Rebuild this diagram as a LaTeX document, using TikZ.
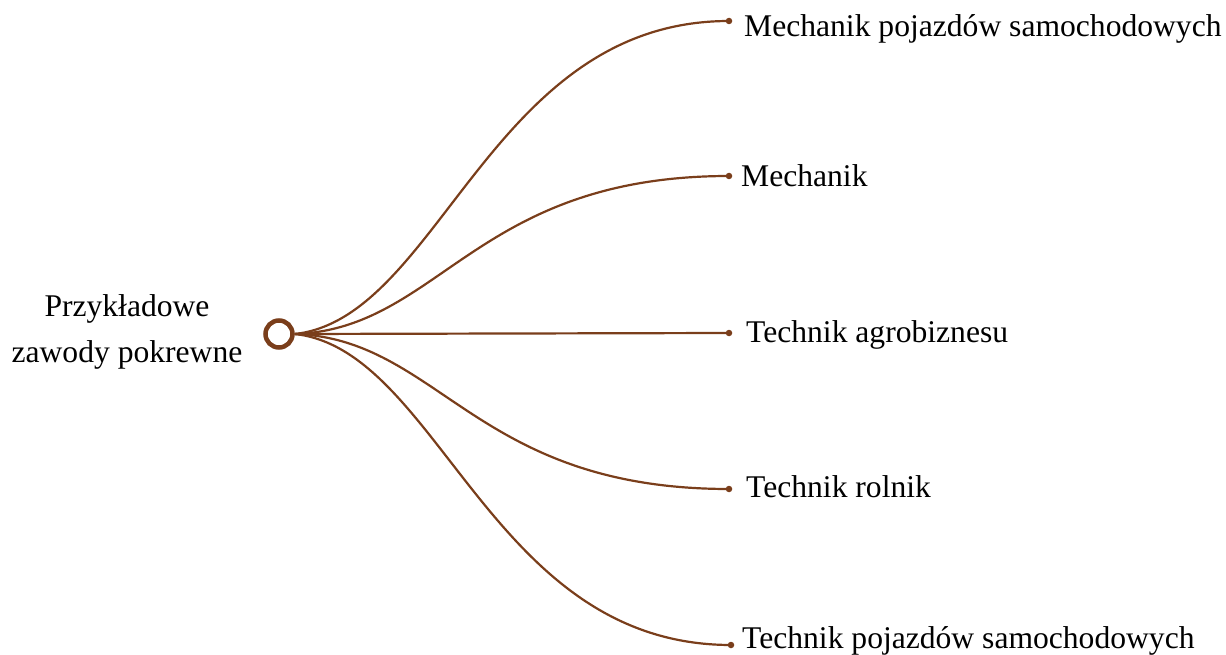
\documentclass[tikz,border=0pt]{standalone}
\usepackage{fontspec}
\setmainfont{Liberation Serif}
\usepackage{xcolor}
\usetikzlibrary{positioning}
\definecolor{branch}{RGB}{122,62,27}

\begin{document}
\begin{tikzpicture} [x = 1pt, y = -1pt,
          hub/.style = {circle, draw = branch, line width = 4.5pt,
              minimum size = 27pt, inner sep = 0pt
          },
          tip/.style = {circle, fill = branch, minimum size = 6.5pt, inner sep = 0pt},
          job/.style = {anchor = base west, inner sep = 0pt,
              font = \fontsize{31.6}{46}\selectfont
          },
          link/.style = {draw = branch, line width = 2.2pt}
          ]
          \useasboundingbox (0,0) rectangle (1226,655);

          % Root
          \node (root) [align = center, inner sep = 0pt,
              font = \fontsize{31.6}{46}\selectfont] at (127,332)
              {Przykładowe\\zawody pokrewne};
          \node (hub) [hub] at (279,334) {};

          % Ends
          \node (e1) [tip] at (729,21) {};
          \node (e2) [tip] at (729,176) {};
          \node (e3) [tip] at (729,333) {};
          \node (e4) [tip] at (729,489) {};
          \node (e5) [tip] at (731,645) {};

          % Labels
          \node (j1) [job] at (744,37) {Mechanik pojazdów samochodowych};
          \node (j2) [job] at (741,187) {Mechanik};
          \node (j3) [job] at (746,342) {Technik agrobiznesu};
          \node (j4) [job] at (746,497) {Technik rolnik};
          \node (j5) [job] at (742,648) {Technik pojazdów samochodowych};

          % Links
          \path [link] (hub.east) .. controls (440,318) and (490,21) .. (e1.center);
          \path [link] (hub.east) .. controls (440,329) and (475,176) .. (e2.center);
          \path [link] (hub.east) -- (e3.center);
          \path [link] (hub.east) .. controls (440,339) and (475,489) .. (e4.center);
          \path [link] (hub.east) .. controls (440,350) and (490,645) .. (e5.center);

        \end{tikzpicture}
\end{document}
